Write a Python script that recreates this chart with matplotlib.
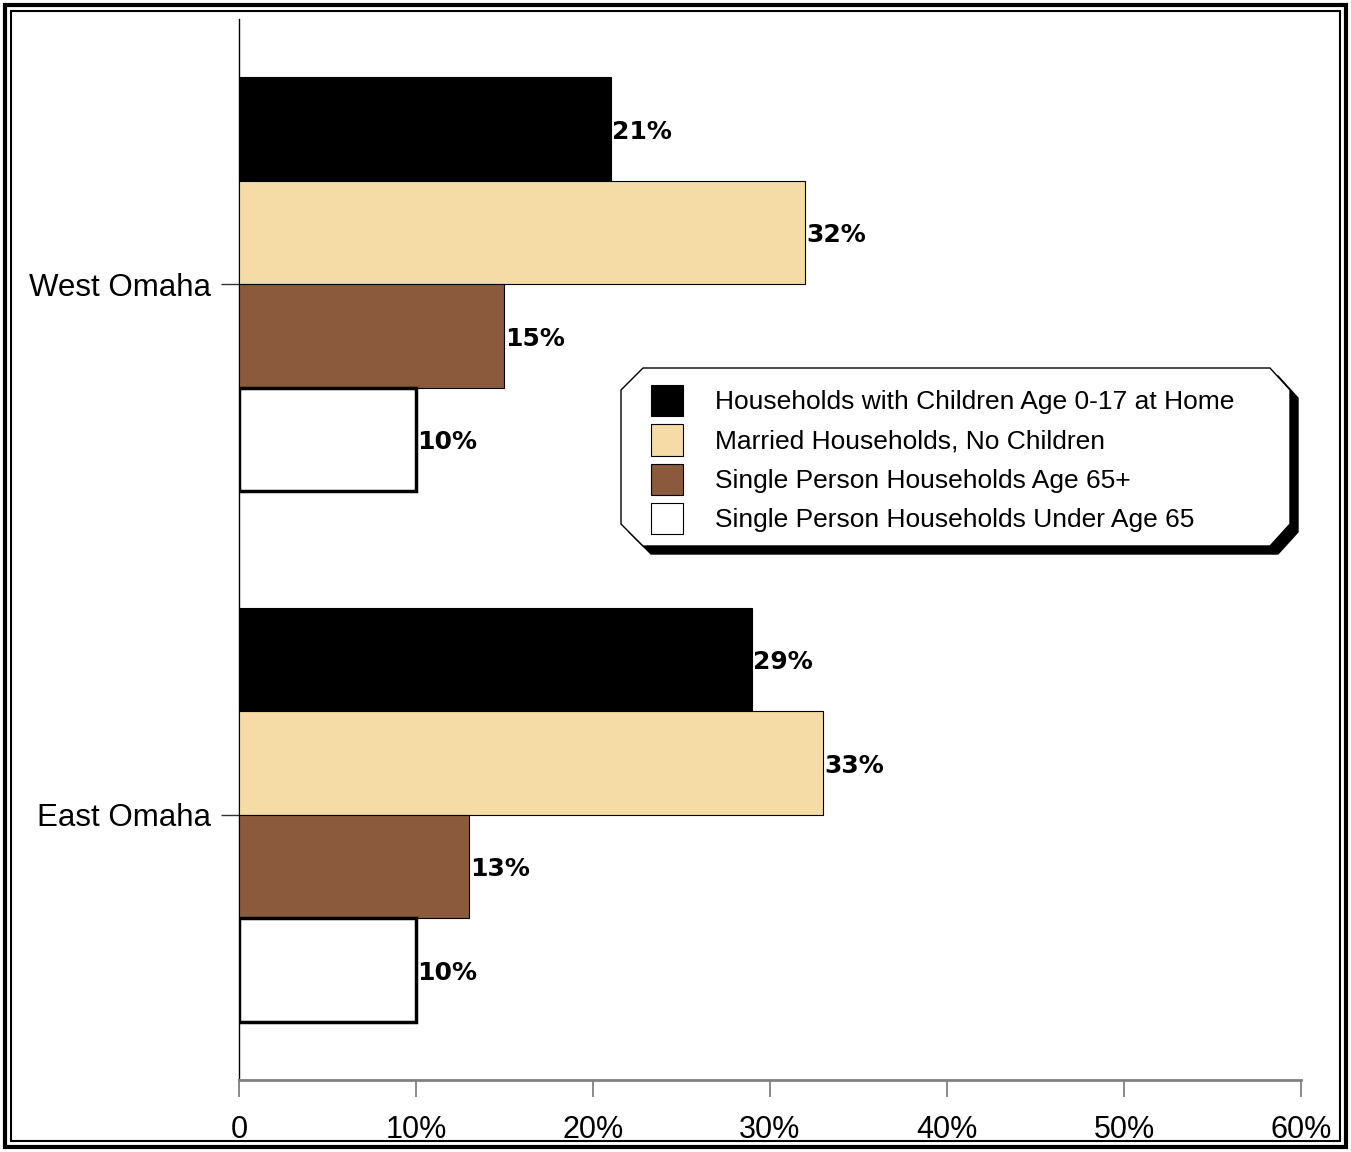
import numpy as np
import matplotlib.pyplot as plt
from matplotlib.patches import Rectangle, Polygon

# Data
areas = ['West Omaha', 'East Omaha']
series = ['Households with Children Age 0-17 at Home',
          'Married Households, No Children',
          'Single Person Households Age 65+',
          'Single Person Households Under Age 65']
children = [21, 29]
married = [32, 33]
single65 = [15, 13]
single_under65 = [10, 10]
xticks = [0, 10, 20, 30, 40, 50, 60]
xtick_labels = ['0', '10%', '20%', '30%', '40%', '50%', '60%']

colors = ['#000000', '#F5DCA6', '#8B5A3C', '#FFFFFF']
W, H = 1351, 1152

fig = plt.figure(figsize=(W / 100, H / 100), dpi=100)
ax = fig.add_axes([239 / W, 72 / H, (1301 - 239) / W, (1080 - 19) / H])

values = [children, married, single65, single_under65]
pos = np.arange(len(areas))
bh = 0.195
handles = []
for i, (vals, col, name) in enumerate(zip(values, colors, series)):
    off = (i - 1.5) * bh
    lw = 2.5 if col == '#FFFFFF' else 0.8
    bars = ax.barh(pos + off, vals, height=bh, color=col, edgecolor='black',
                   linewidth=lw, label=name, zorder=3)
    handles.append(bars)
    for b, v in zip(bars, vals):
        ax.text(v + 0.05, b.get_y() + b.get_height() / 2 + 0.005, f'{v}%',
                ha='left', va='center', fontsize=18, fontweight='bold',
                family='DejaVu Sans', zorder=4)

ax.set_xlim(0, 60)
ax.set_ylim(1.5, -0.5)
ax.set_yticks(pos)
ax.set_yticklabels(areas, fontsize=22.5, family='Liberation Sans')
ax.set_xticks(xticks)
ax.set_xticklabels(xtick_labels, fontsize=22, family='Liberation Sans')
ax.tick_params(axis='y', length=13, width=1, color='#333333', pad=7)
ax.tick_params(axis='x', length=12, width=1.3, color='#808080', pad=13.5)
for s in ['top', 'right']:
    ax.spines[s].set_visible(False)
ax.spines['left'].set_color('black')
ax.spines['left'].set_linewidth(1)
ax.spines['bottom'].set_color('#808080')
ax.spines['bottom'].set_linewidth(2)
ax.spines['bottom'].set_zorder(5)

# Legend with chamfered box and drop shadow
def px(x, y):
    return (x / W, 1 - y / H)

c = 22
box = [(621 + c, 368), (1270, 368), (1290, 368 + c), (1290, 546 - c),
       (1270, 546), (621 + c, 546), (621, 546 - c), (621, 368 + c)]
shadow = [(x + 8, y + 8) for x, y in box]
fig.patches.append(Polygon([px(*p) for p in shadow], closed=True,
                           transform=fig.transFigure, facecolor='black',
                           edgecolor='black', zorder=5))
fig.patches.append(Polygon([px(*p) for p in box], closed=True,
                           transform=fig.transFigure, facecolor='white',
                           edgecolor='black', linewidth=1, zorder=6))

leg = fig.legend(handles, series, loc='upper left',
                 bbox_to_anchor=px(651, 385), bbox_transform=fig.transFigure,
                 frameon=False, borderaxespad=0, borderpad=0,
                 prop={'family': 'Liberation Sans', 'size': 19},
                 handlelength=1.22, handleheight=1.45,
                 handletextpad=1.22, labelspacing=0.3)
leg.set_zorder(10)
for h in leg.legend_handles:
    h.set_linewidth(0.8)
    h.set_edgecolor('black')

# Double frame round the figure
fig.patches.append(Rectangle((5 / W, 5 / H), (W - 10) / W, (H - 10) / H,
                             transform=fig.transFigure, fill=False,
                             edgecolor='black', linewidth=3))
fig.patches.append(Rectangle((11 / W, 11 / H), (W - 22) / W, (H - 22) / H,
                             transform=fig.transFigure, fill=False,
                             edgecolor='black', linewidth=1.5))

fig.savefig('out.png', dpi=100)
